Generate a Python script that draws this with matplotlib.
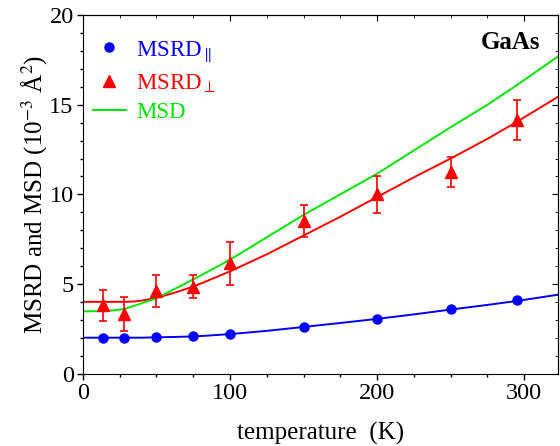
import matplotlib
matplotlib.use("Agg")
import matplotlib.pyplot as plt
from matplotlib.lines import Line2D
import numpy as np

plt.rcParams['font.family'] = ['Liberation Serif', 'DejaVu Serif']
plt.rcParams['mathtext.fontset'] = 'stix'

# measured points
T_pts = [14, 28, 50, 75, 100, 150, 200, 250, 295]
msrd_par = [2.0, 2.0, 2.02, 2.08, 2.22, 2.6, 3.05, 3.6, 4.1]
msrd_perp = [3.8, 3.3, 4.6, 4.85, 6.15, 8.5, 10.0, 11.25, 14.15]
perp_err = [0.85, 0.95, 0.9, 0.65, 1.2, 0.9, 1.05, 0.85, 1.1]

# model curves
T_curve = [0, 10, 20, 28, 35, 40, 50, 62, 75, 82, 100, 125, 150, 175, 200,
           225, 250, 275, 295, 323]
par_curve = [2.0, 2.0, 2.0, 2.0, 2.0, 2.0, 2.02, 2.04, 2.07, 2.1, 2.2, 2.38,
             2.6, 2.82, 3.05, 3.3, 3.57, 3.83, 4.05, 4.4]
perp_curve = [4.0, 4.0, 4.0, 4.0, 4.02, 4.07, 4.22, 4.5, 4.85, 5.08, 5.7,
              6.65, 7.7, 8.75, 9.85, 10.95, 12.0, 13.1, 14.05, 15.45]
msd_curve = [3.47, 3.48, 3.52, 3.6, 3.78, 3.92, 4.2, 4.7, 5.25, 5.55, 6.35,
             7.6, 8.85, 10.0, 11.15, 12.45, 13.75, 15.0, 16.1, 17.7]

blue = '#0000ff'
red = '#ff0000'
green = '#00e600'

fig = plt.figure(figsize=(5.6, 4.46), dpi=100)
ax = fig.add_axes([0.1477, 0.1625, 0.849, 0.8035])

ax.plot(T_curve, par_curve, color=blue, lw=1.4)
ax.plot(T_curve, perp_curve, color=red, lw=1.4)
ax.plot(T_curve, msd_curve, color=green, lw=1.4)
ax.plot(T_pts, msrd_par, 'o', color=blue, ms=6.5)
ax.errorbar(T_pts, msrd_perp, yerr=perp_err, fmt='^', color=red, ms=8,
            ecolor=red, elinewidth=1.2, capsize=3, capthick=1.2)

ax.set_xlim(0, 323)
ax.set_ylim(0, 20)
ax.set_xticks([0, 100, 200, 300])
ax.set_xticks(np.arange(0, 325, 25), minor=True)
ax.set_yticks([0, 5, 10, 15, 20])
ax.set_yticks(np.arange(0, 21, 1), minor=True)
ax.tick_params(which='both', direction='out', labelsize=17.5, width=1, pad=2)
ax.tick_params(which='major', length=4.5)
ax.tick_params(which='minor', length=2.5)

# mirrored ticks pointing in on top and right
top = ax.secondary_xaxis('top')
top.set_xticks([0, 100, 200, 300])
top.set_xticks(np.arange(0, 325, 25), minor=True)
top.tick_params(which='both', direction='in', labeltop=False)
top.tick_params(which='major', length=4.5)
top.tick_params(which='minor', length=2.5)
right = ax.secondary_yaxis('right')
right.set_yticks([0, 5, 10, 15, 20])
right.set_yticks(np.arange(0, 21, 1), minor=True)
right.tick_params(which='both', direction='in', labelright=False)
right.tick_params(which='major', length=4.5)
right.tick_params(which='minor', length=2.5)

ax.set_xlabel('temperature  (K)', fontsize=18, labelpad=13)
ax.set_ylabel(r'MSRD and MSD (10$^{-3}$ Å$^{2}$)', fontsize=18, labelpad=0)

ax.text(0.962, 0.925, 'GaAs', transform=ax.transAxes, ha='right', va='center',
        fontsize=18, fontweight='bold')

handles = [
    Line2D([], [], marker='o', ls='none', color=blue, ms=6.5),
    Line2D([], [], marker='^', ls='none', color=red, ms=8),
    Line2D([], [], color=green, lw=1.4),
]
labels = [r'MSRD$_{\parallel}$', r'MSRD$_{\perp}$', 'MSD']
leg = ax.legend(handles, labels, loc='upper left', bbox_to_anchor=(-0.02, 0.988),
                frameon=False, fontsize=16.5, handlelength=1.45,
                handletextpad=0.45, labelspacing=0.35, borderaxespad=0.45)
for txt, c in zip(leg.get_texts(), [blue, red, green]):
    txt.set_color(c)

fig.savefig('out.png', dpi=100)
